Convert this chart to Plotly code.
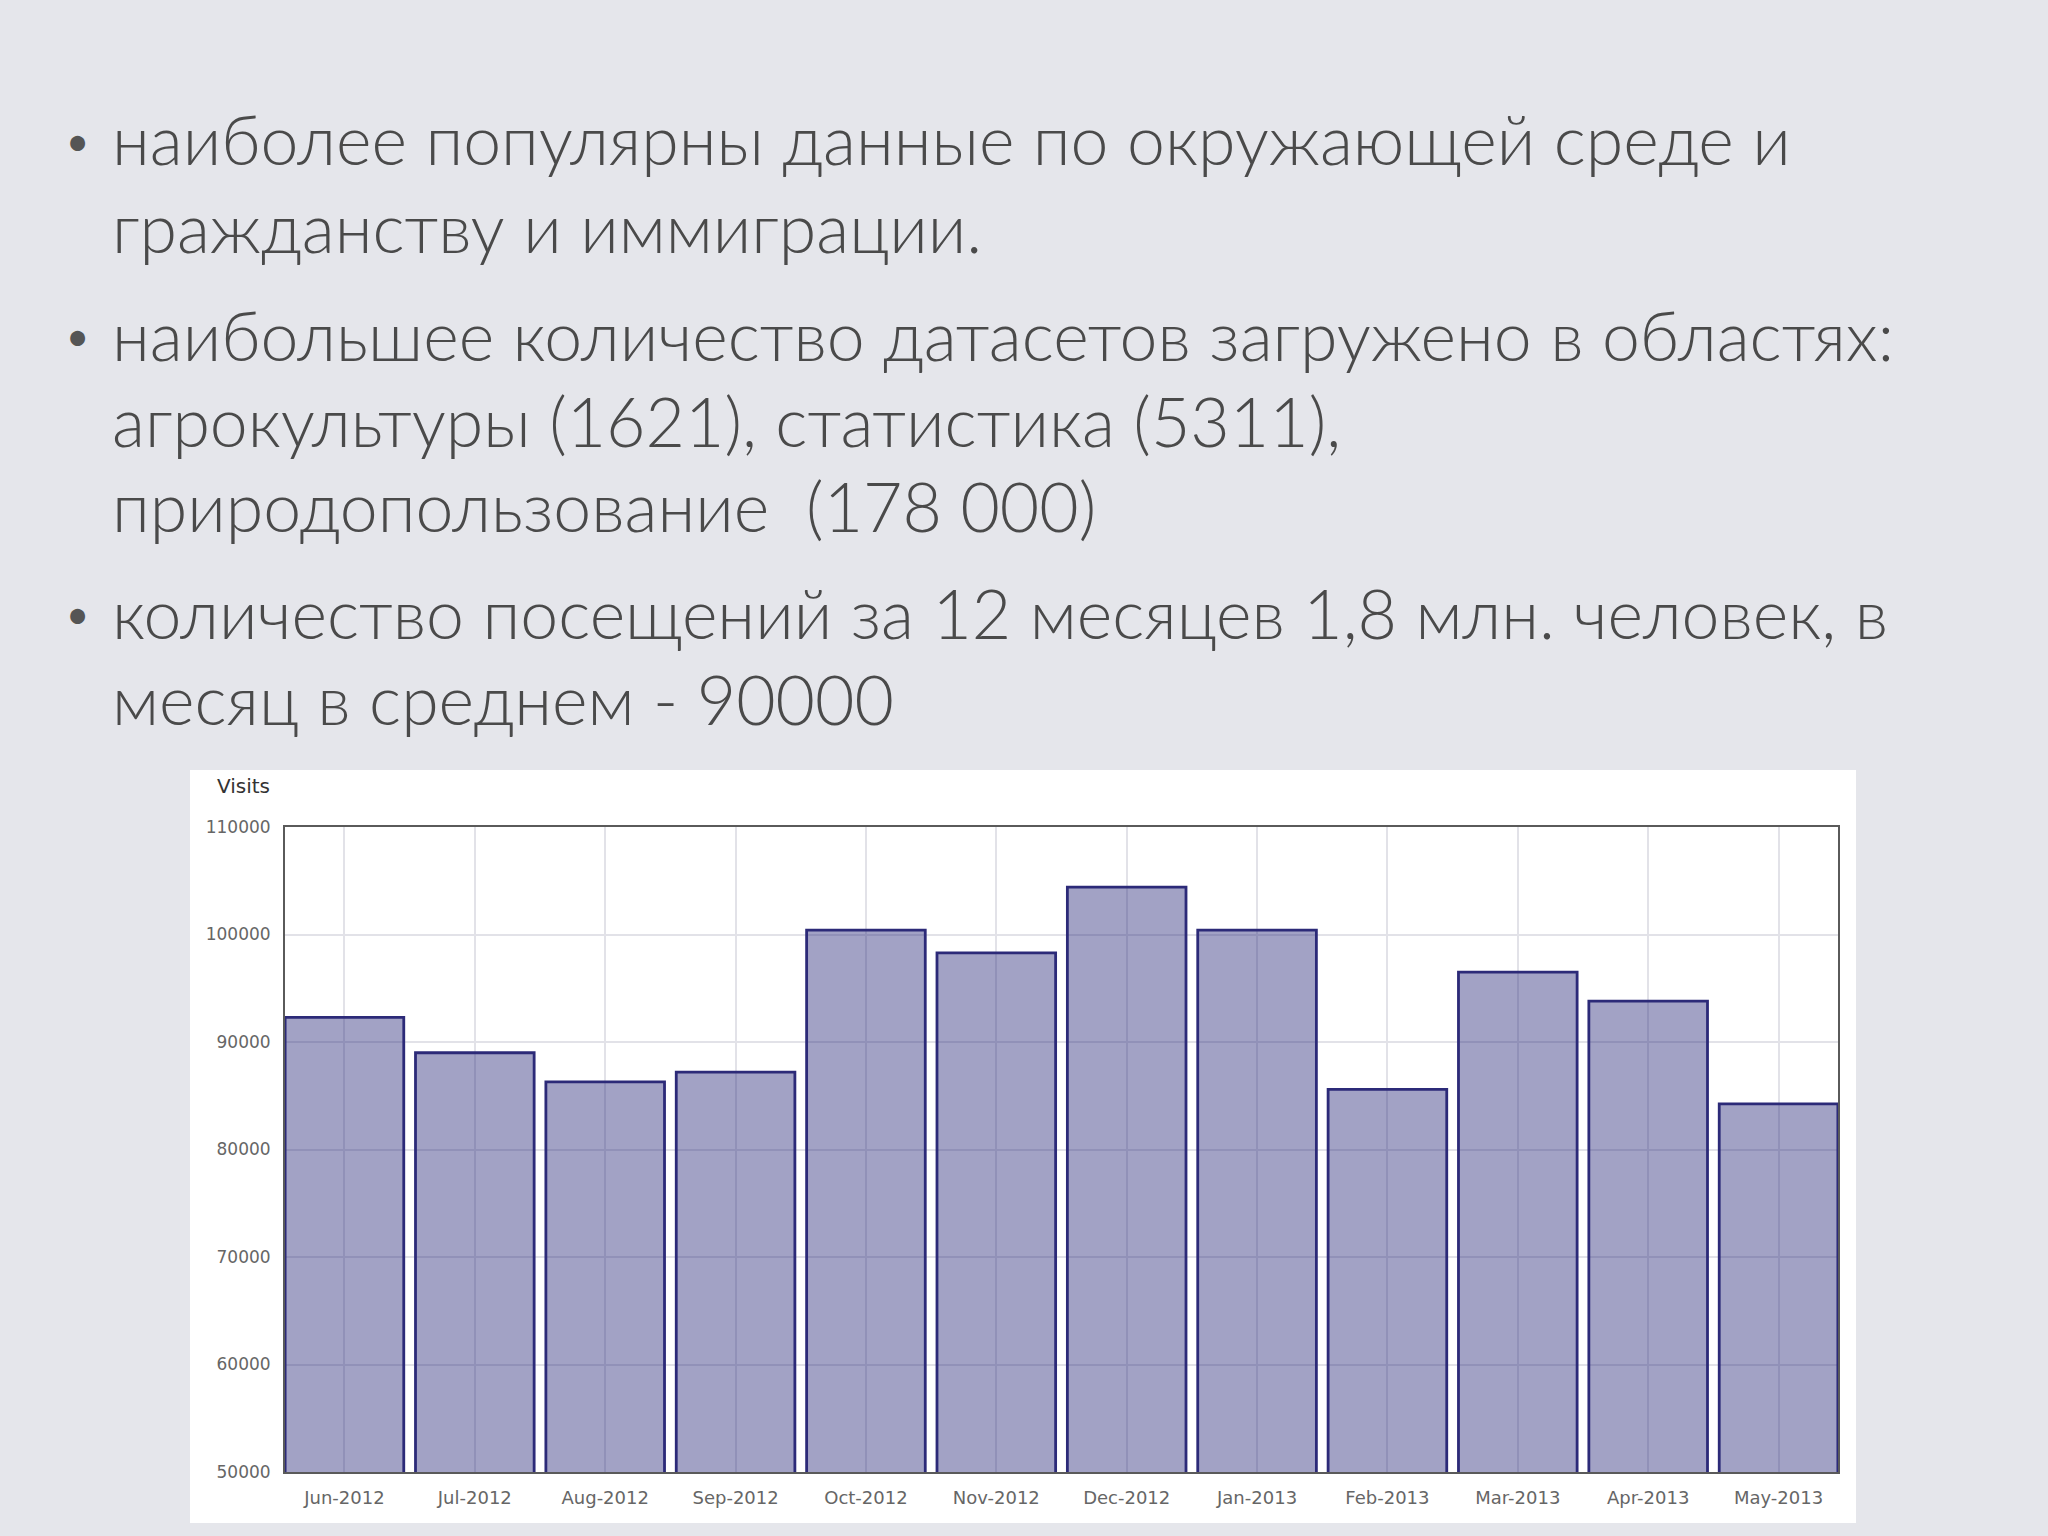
import plotly.graph_objects as go

months = ["Jun-2012", "Jul-2012", "Aug-2012", "Sep-2012", "Oct-2012", "Nov-2012",
          "Dec-2012", "Jan-2013", "Feb-2013", "Mar-2013", "Apr-2013", "May-2013"]
visits = [92300, 89000, 86300, 87200, 100400, 98300,
          104400, 100400, 85600, 96500, 93800, 84250]
y_ticks = [50000, 60000, 70000, 80000, 90000, 100000, 110000]

bullet_lines = [
    ["наиболее популярны данные по окружающей среде и",
     "гражданству и иммиграции."],
    ["наибольшее количество датасетов загружено в областях:",
     "агрокультуры (1621), статистика (5311),",
     "природопользование  (178 000)"],
    ["количество посещений за 12 месяцев 1,8 млн. человек, в",
     "месяц в среднем - 90000"],
]
line_y = [[139, 227], [334, 420, 505], [612, 698]]

W, H = 2048, 1536
L, R, T, B = 285, 1838, 827, 1472


def px(x):
    return (x - L) / (R - L)


def py(y):
    return (B - y) / (B - T)


fig = go.Figure()
fig.add_trace(go.Bar(
    x=months, y=visits,
    marker=dict(color="rgba(40,40,120,0.43)",
                line=dict(color="#2C2A78", width=2.8)),
    width=0.91,
))

shapes = [dict(type="rect", xref="paper", yref="paper", layer="below",
               x0=px(190), x1=px(1856), y0=py(1523), y1=py(770),
               fillcolor="white", line=dict(width=0))]

annotations = []
for lines, ys in zip(bullet_lines, line_y):
    annotations.append(dict(x=px(64), y=py(ys[0] + 2), xref="paper", yref="paper",
                            text="•", showarrow=False, xanchor="left", yanchor="middle",
                            font=dict(family="Lato", size=40, color="#555555")))
    for t, yy in zip(lines, ys):
        annotations.append(dict(x=px(110), y=py(yy), xref="paper", yref="paper",
                                text=t, showarrow=False, xanchor="left", yanchor="middle",
                                font=dict(family="Lato", size=68, weight=300,
                                          color="#4a4a4a")))

annotations.append(dict(x=px(215), y=py(786), xref="paper", yref="paper",
                        text="Visits", showarrow=False, xanchor="left", yanchor="middle",
                        font=dict(family="DejaVu Sans", size=20, color="#333333")))

fig.update_layout(
    width=W, height=H,
    margin=dict(l=L, r=W - R, t=T, b=H - B, pad=0),
    paper_bgcolor="#E5E6EB",
    plot_bgcolor="rgba(0,0,0,0)",
    showlegend=False,
    bargap=0.09,
    shapes=shapes,
    annotations=annotations,
    xaxis=dict(type="category", range=[-0.456, 11.456],
               showgrid=True, gridcolor="#E2E2E8", gridwidth=1.5,
               showline=True, linecolor="#5A5A5A", linewidth=2, mirror=True,
               ticks="", tickfont=dict(family="DejaVu Sans", size=18, color="#666666"),
               ticklabelstandoff=8),
    yaxis=dict(range=[50000, 110000], tickvals=y_ticks,
               ticktext=[str(v) for v in y_ticks],
               showgrid=True, gridcolor="#E2E2E8", gridwidth=1.5,
               showline=True, linecolor="#5A5A5A", linewidth=2, mirror=True,
               zeroline=False, ticks="",
               tickfont=dict(family="DejaVu Sans", size=17, color="#666666"),
               ticklabelstandoff=9),
)

fig.write_html("out.html", config={"displayModeBar": False},
               post_script="document.body.style.margin='0';document.body.style.overflow='hidden';")
